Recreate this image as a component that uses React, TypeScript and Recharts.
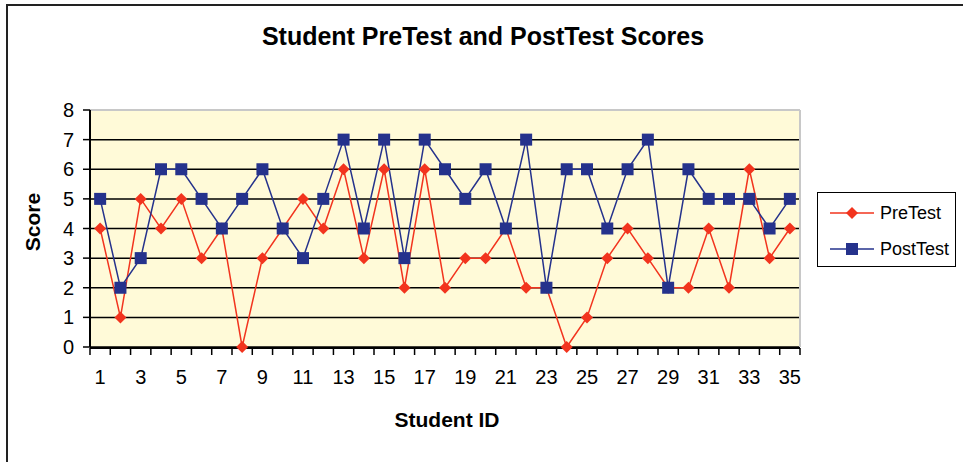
import { CartesianGrid, Line, LineChart, ReferenceLine, XAxis, YAxis } from "recharts";

const studentIds = [
  1, 2, 3, 4, 5, 6, 7, 8, 9, 10, 11, 12, 13, 14, 15, 16, 17, 18, 19, 20, 21, 22, 23, 24, 25, 26, 27, 28,
  29, 30, 31, 32, 33, 34, 35,
];
const preTest = [4, 1, 5, 4, 5, 3, 4, 0, 3, 4, 5, 4, 6, 3, 6, 2, 6, 2, 3, 3, 4, 2, 2, 0, 1, 3, 4, 3, 2, 2, 4, 2, 6, 3, 4];
const postTest = [5, 2, 3, 6, 6, 5, 4, 5, 6, 4, 3, 5, 7, 4, 7, 3, 7, 6, 5, 6, 4, 7, 2, 6, 6, 4, 6, 7, 2, 6, 5, 5, 5, 4, 5];
const yTicks = [0, 1, 2, 3, 4, 5, 6, 7, 8];
const xLabelTicks = [1, 3, 5, 7, 9, 11, 13, 15, 17, 19, 21, 23, 25, 27, 29, 31, 33, 35];

const data = studentIds.map((id, i) => ({ id, pre: preTest[i], post: postTest[i] }));
const boundaryTicks = [...studentIds.map((id) => id - 0.5), studentIds[studentIds.length - 1] + 0.5];

const RED = "#f2341e";
const NAVY = "#25328c";
const FONT = '"Liberation Sans", Arial, sans-serif';

const Diamond = (props: any) => {
  const { cx, cy } = props;
  if (cx == null || cy == null) return null;
  const r = 6;
  return (
    <polygon
      points={`${cx},${cy - r} ${cx + r},${cy} ${cx},${cy + r} ${cx - r},${cy}`}
      fill={RED}
    />
  );
};

const Square = (props: any) => {
  const { cx, cy } = props;
  if (cx == null || cy == null) return null;
  const r = 6;
  return <rect x={cx - r} y={cy - r} width={r * 2} height={r * 2} fill={NAVY} />;
};

const NoLabel = () => <g />;

function LegendBox() {
  const item = (label: string, color: string, square: boolean) => (
    <div style={{ display: "flex", alignItems: "center", height: 36 }}>
      <svg width={52} height={14} style={{ marginLeft: 10 }}>
        <line x1={2} y1={7} x2={46} y2={7} stroke={color} strokeWidth={1.5} />
        {square ? (
          <rect x={18} y={1} width={12} height={12} fill={color} />
        ) : (
          <polygon points="24,1 30,7 24,13 18,7" fill={color} />
        )}
      </svg>
      <span style={{ fontSize: 18 }}>{label}</span>
    </div>
  );
  return (
    <div
      style={{
        position: "absolute",
        left: 817,
        top: 192,
        width: 139,
        height: 75,
        border: "1.5px solid #000",
        boxSizing: "border-box",
        paddingTop: 2,
        fontFamily: FONT,
      }}
    >
      {item("PreTest", RED, false)}
      {item("PostTest", NAVY, true)}
    </div>
  );
}

export default function App() {
  return (
    <div
      style={{
        position: "absolute",
        left: 0,
        top: 0,
        width: 963,
        height: 462,
        overflow: "hidden",
        background: "#fff",
        fontFamily: FONT,
      }}
    >
      <div
        style={{
          position: "absolute",
          left: 6,
          top: 4,
          width: 1000,
          height: 1000,
          border: "2px solid #222",
        }}
      />
      <div
        style={{
          position: "absolute",
          left: 0,
          top: 22,
          width: 966,
          textAlign: "center",
          fontSize: 25,
          fontWeight: "bold",
        }}
      >
        Student PreTest and PostTest Scores
      </div>
      <div
        style={{
          position: "absolute",
          left: 33,
          top: 222,
          transform: "translate(-50%, -50%) rotate(-90deg)",
          fontSize: 21,
          fontWeight: "bold",
        }}
      >
        Score
      </div>
      <div
        style={{
          position: "absolute",
          left: 447,
          top: 420,
          transform: "translate(-50%, -50%)",
          fontSize: 21,
          fontWeight: "bold",
        }}
      >
        Student ID
      </div>
      <LineChart
        width={963}
        height={462}
        data={data}
        margin={{ top: 110, right: 163, bottom: 113, left: 60 }}
        style={{ position: "absolute", left: 0, top: 0 }}
      >
        <CartesianGrid vertical={false} stroke="#000" strokeWidth={1.5} fill="#fffad8" fillOpacity={1} />
        <XAxis
          xAxisId="marks"
          dataKey="id"
          type="number"
          domain={[0.5, 35.5]}
          ticks={boundaryTicks}
          interval={0}
          tick={NoLabel}
          tickSize={7}
          tickLine={{ stroke: "#000", strokeWidth: 1.5 }}
          axisLine={{ stroke: "#000", strokeWidth: 2 }}
          height={1}
        />
        <XAxis
          xAxisId="labels"
          dataKey="id"
          type="number"
          domain={[0.5, 35.5]}
          ticks={xLabelTicks}
          interval={0}
          tickLine={false}
          axisLine={false}
          tickSize={0}
          tickMargin={23}
          tick={{ fill: "#000", fontSize: 20, fontFamily: FONT }}
          height={1}
        />
        <YAxis
          domain={[0, 8]}
          ticks={yTicks}
          interval={0}
          width={30}
          tickSize={7}
          tickMargin={9}
          tickLine={{ stroke: "#000", strokeWidth: 1.5 }}
          axisLine={{ stroke: "#000", strokeWidth: 2 }}
          tick={{ fill: "#000", fontSize: 20, fontFamily: FONT }}
        />
        <ReferenceLine xAxisId="marks" y={8} stroke="#c8c8c8" strokeWidth={2} />
        <ReferenceLine xAxisId="marks" x={35.5} stroke="#c8c8c8" strokeWidth={2} />
        <Line
          xAxisId="marks"
          dataKey="pre"
          name="PreTest"
          stroke={RED}
          strokeWidth={1.5}
          dot={<Diamond />}
          activeDot={false}
          isAnimationActive={false}
        />
        <Line
          xAxisId="marks"
          dataKey="post"
          name="PostTest"
          stroke={NAVY}
          strokeWidth={1.5}
          dot={<Square />}
          activeDot={false}
          isAnimationActive={false}
        />
      </LineChart>
      <LegendBox />
    </div>
  );
}
